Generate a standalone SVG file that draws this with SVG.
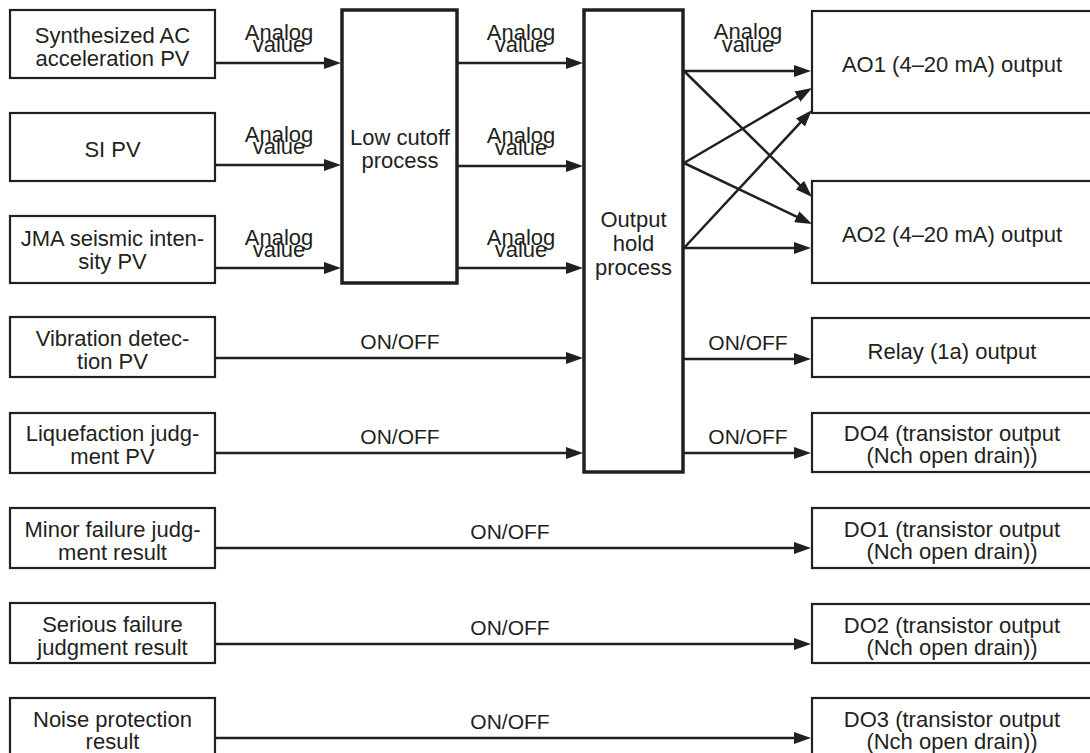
<svg xmlns="http://www.w3.org/2000/svg" width="1090" height="753" viewBox="0 0 1090 753">
<defs>
<marker id="ah" markerUnits="userSpaceOnUse" markerWidth="17" markerHeight="12" refX="9" refY="6" orient="auto">
<path d="M0,0 L17,6 L0,12 z" fill="#231f20"/>
</marker>
<style>
.box{fill:#fff;stroke:#231f20;stroke-width:2.2}
.proc{fill:#fff;stroke:#231f20;stroke-width:3.5}
.t{font-family:"Liberation Sans",Arial,sans-serif;font-size:22px;fill:#231f20;text-anchor:middle}
.lbl{font-family:"Liberation Sans",Arial,sans-serif;font-size:21px;fill:#231f20;text-anchor:middle}
.c{stroke:#231f20;stroke-width:2.5;fill:none;marker-end:url(#ah)}
</style>
</defs>
<rect width="1090" height="753" fill="#fff"/>

<g id="in1"><rect class="box" x="10" y="10" width="205" height="68"/><text class="t" x="112.5" y="43">Synthesized AC</text><text class="t" x="112.5" y="66">acceleration PV</text></g>
<g id="in2"><rect class="box" x="10" y="113" width="205" height="68"/><text class="t" x="112.5" y="157">SI PV</text></g>
<g id="in3"><rect class="box" x="10" y="216" width="205" height="67"/><text class="t" x="112.5" y="246">JMA seismic inten-</text><text class="t" x="112.5" y="269">sity PV</text></g>
<g id="in4"><rect class="box" x="10" y="317" width="205" height="60"/><text class="t" x="112.5" y="346">Vibration detec-</text><text class="t" x="112.5" y="369">tion PV</text></g>
<g id="in5"><rect class="box" x="10" y="413" width="205" height="60"/><text class="t" x="112.5" y="441">Liquefaction judg-</text><text class="t" x="112.5" y="464">ment PV</text></g>
<g id="in6"><rect class="box" x="10" y="508" width="205" height="60"/><text class="t" x="112.5" y="537">Minor failure judg-</text><text class="t" x="112.5" y="560">ment result</text></g>
<g id="in7"><rect class="box" x="10" y="603" width="205" height="60"/><text class="t" x="112.5" y="632">Serious failure</text><text class="t" x="112.5" y="655">judgment result</text></g>
<g id="in8"><rect class="box" x="10" y="698" width="205" height="60"/><text class="t" x="112.5" y="727">Noise protection</text><text class="t" x="112.5" y="749">result</text></g>

<g id="lowcut"><rect class="proc" x="342" y="10" width="115" height="273"/><text class="t" x="400" y="145">Low cutoff</text><text class="t" x="400" y="168">process</text></g>
<g id="hold"><rect class="proc" x="584" y="10" width="99" height="462"/><text class="t" x="633.5" y="227">Output</text><text class="t" x="633.5" y="251">hold</text><text class="t" x="633.5" y="275">process</text></g>

<g id="ao1"><rect class="box" x="812" y="11" width="300" height="102"/><text class="t" x="952" y="72">AO1 (4–20 mA) output</text></g>
<g id="ao2"><rect class="box" x="812" y="181" width="300" height="102"/><text class="t" x="952" y="242">AO2 (4–20 mA) output</text></g>
<g id="relay"><rect class="box" x="812" y="318" width="300" height="59"/><text class="t" x="952" y="359">Relay (1a) output</text></g>
<g id="do4"><rect class="box" x="812" y="413" width="300" height="59"/><text class="t" x="952" y="441">DO4 (transistor output</text><text class="t" x="952" y="463">(Nch open drain))</text></g>
<g id="do1"><rect class="box" x="812" y="508" width="300" height="60"/><text class="t" x="952" y="537">DO1 (transistor output</text><text class="t" x="952" y="559">(Nch open drain))</text></g>
<g id="do2"><rect class="box" x="812" y="604" width="300" height="59"/><text class="t" x="952" y="633">DO2 (transistor output</text><text class="t" x="952" y="655">(Nch open drain))</text></g>
<g id="do3"><rect class="box" x="812" y="698" width="300" height="60"/><text class="t" x="952" y="727">DO3 (transistor output</text><text class="t" x="952" y="749">(Nch open drain))</text></g>

<g id="connectors">
<line class="c" x1="215" y1="63" x2="333" y2="63"/>
<line class="c" x1="215" y1="165" x2="333" y2="165"/>
<line class="c" x1="215" y1="268" x2="333" y2="268"/>
<line class="c" x1="457" y1="63" x2="575" y2="63"/>
<line class="c" x1="457" y1="166" x2="575" y2="166"/>
<line class="c" x1="457" y1="268" x2="575" y2="268"/>
<line class="c" x1="215" y1="358" x2="575" y2="358"/>
<line class="c" x1="215" y1="453" x2="575" y2="453"/>
<line class="c" x1="684" y1="71" x2="803" y2="71"/>
<line class="c" x1="684" y1="71" x2="806.3" y2="191.4"/>
<line class="c" x1="684" y1="163" x2="805.1" y2="92"/>
<line class="c" x1="684" y1="163" x2="804.8" y2="220.6"/>
<line class="c" x1="684" y1="248" x2="806.6" y2="115.9"/>
<line class="c" x1="684" y1="248" x2="803" y2="248"/>
<line class="c" x1="684" y1="359" x2="803" y2="359"/>
<line class="c" x1="684" y1="453" x2="803" y2="453"/>
<line class="c" x1="215" y1="548" x2="803" y2="548"/>
<line class="c" x1="215" y1="644" x2="803" y2="644"/>
<line class="c" x1="215" y1="738" x2="803" y2="738"/>
</g>

<g id="labels">
<text class="t" x="279" y="40">Analog</text><text class="t" x="279" y="52">value</text>
<text class="t" x="279" y="142">Analog</text><text class="t" x="279" y="154">value</text>
<text class="t" x="279" y="245">Analog</text><text class="t" x="279" y="257">value</text>
<text class="t" x="521" y="40">Analog</text><text class="t" x="521" y="52">value</text>
<text class="t" x="521" y="143">Analog</text><text class="t" x="521" y="155">value</text>
<text class="t" x="521" y="245">Analog</text><text class="t" x="521" y="257">value</text>
<text class="t" x="748" y="39">Analog</text><text class="t" x="748" y="52">value</text>
<text class="lbl" x="400" y="349">ON/OFF</text>
<text class="lbl" x="400" y="444">ON/OFF</text>
<text class="lbl" x="748" y="350">ON/OFF</text>
<text class="lbl" x="748" y="444">ON/OFF</text>
<text class="lbl" x="510" y="539">ON/OFF</text>
<text class="lbl" x="510" y="635">ON/OFF</text>
<text class="lbl" x="510" y="729">ON/OFF</text>
</g>
</svg>
